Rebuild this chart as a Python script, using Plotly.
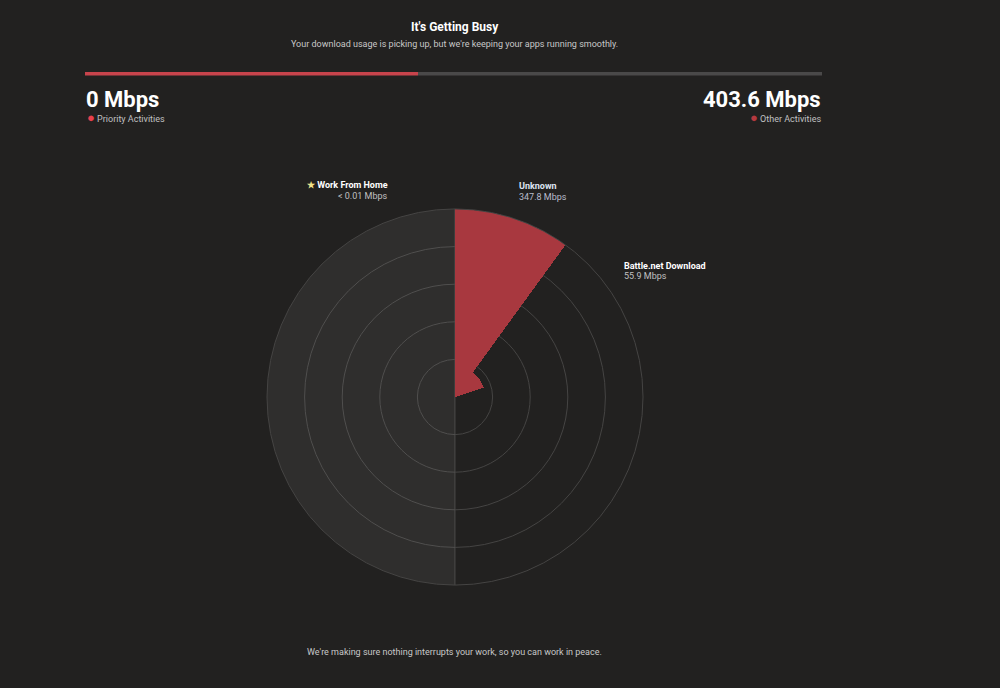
import plotly.graph_objects as go

# ---- data ----
apps = ["Work From Home", "Unknown", "Battle.net Download"]
app_mbps = [0.01, 347.8, 55.9]
app_labels = ["< 0.01 Mbps", "347.8 Mbps", "55.9 Mbps"]
wedge_theta = [270, 18, 54]
wedge_width = [180, 36, 36]
priority_mbps = 0
other_mbps = 403.6
usage_parts = [0.452, 0.548]

r_max = 347.8
ring_fracs = [0.2, 0.4, 0.6, 0.8, 1.0]

BG = "#222120"
RED = "#a8383f"
FONT = "Roboto"

fig = go.Figure()

# Work From Home (priority zone) - drawn at full radius as translucent band
fig.add_trace(go.Barpolar(
    r=[r_max], theta=[wedge_theta[0]], width=[wedge_width[0]],
    marker=dict(color="rgba(255,255,255,0.058)", line=dict(width=0)),
    hoverinfo="skip", showlegend=False))
fig.add_trace(go.Barpolar(
    r=app_mbps[1:], theta=wedge_theta[1:], width=wedge_width[1:],
    marker=dict(color=RED, line=dict(width=0)),
    hoverinfo="skip", showlegend=False))

# progress bar as stacked horizontal bar
fig.add_trace(go.Bar(x=[usage_parts[0]], y=[0], orientation="h", marker=dict(color="#c8444c", line=dict(width=0)),
                     width=1, xaxis="x", yaxis="y", showlegend=False, hoverinfo="skip"))
fig.add_trace(go.Bar(x=[usage_parts[1]], y=[0], orientation="h", marker=dict(color="#4a4949", line=dict(width=0)),
                     width=1, xaxis="x", yaxis="y", showlegend=False, hoverinfo="skip"))

H = 688.0
def py(p):
    return 1 - p / H

fig.update_layout(
    width=1000, height=688,
    margin=dict(l=0, r=0, t=0, b=0),
    paper_bgcolor=BG, plot_bgcolor=BG,
    barmode="stack",
    font=dict(family=FONT, color="#ffffff"),
    xaxis=dict(domain=[0.085, 0.822], range=[0, 1], visible=False, fixedrange=True),
    yaxis=dict(domain=[py(75.5), py(71.5)], range=[-0.5, 0.5], visible=False, fixedrange=True),
    polar=dict(
        domain=dict(x=[(455 - 188) / 1000, (455 + 188) / 1000], y=[py(585), py(209)]),
        bgcolor=BG,
        bargap=0,
        radialaxis=dict(range=[0, r_max], tickvals=[f * r_max for f in ring_fracs],
                        showticklabels=False, ticks="", showline=False,
                        gridcolor="#454443", gridwidth=1),
        angularaxis=dict(direction="clockwise", rotation=90, tickvals=[0, 180],
                         showticklabels=False, ticks="", gridcolor="#454443",
                         showline=True, linecolor="#454443", linewidth=1),
    ),
)

ann = []
def add(text, x, y, size, color="#ffffff", xanchor="center", bold=False):
    if bold:
        text = "<b>" + text + "</b>"
    ann.append(dict(text=text, x=x / 1000, y=py(y), xref="paper", yref="paper",
                    xanchor=xanchor, yanchor="middle", showarrow=False,
                    font=dict(family=FONT, size=size, color=color)))

add("It's Getting Busy", 455, 27, 12, bold=True)
add("Your download usage is picking up, but we're keeping your apps running smoothly.", 454, 44, 9, color="#c8c8c8")
add(f"{priority_mbps} Mbps", 84, 99, 22, xanchor="left", bold=True)
add("<span style='color:#e8404c;font-size:13px'>●</span> Priority Activities", 85, 118, 9, color="#c0c0c0", xanchor="left")
add(f"{other_mbps} Mbps", 823, 99, 22, xanchor="right", bold=True)
add("<span style='color:#b5393f;font-size:13px'>●</span> Other Activities", 823, 118, 9, color="#c0c0c0", xanchor="right")

add("<span style='color:#f2e48a'>★</span> " + apps[0], 390, 185, 9, xanchor="right", bold=True)
add(app_labels[0], 390, 196, 9, color="#c0c0c0", xanchor="right")
add(apps[1], 517, 186, 9, color="#dde4f2", xanchor="left", bold=True)
add(app_labels[1], 517, 197, 9, color="#b8bccc", xanchor="left")
add(apps[2], 622, 266, 9, xanchor="left", bold=True)
add(app_labels[2], 622, 276, 9, color="#c0c0c0", xanchor="left")

add("We're making sure nothing interrupts your work, so you can work in peace.", 454, 652, 9, color="#c8c8c8")

fig.update_layout(annotations=ann)
fig.write_html("out.html", config={"displayModeBar": False},
               post_script="document.body.style.margin='0';document.body.style.background='#222120';")
